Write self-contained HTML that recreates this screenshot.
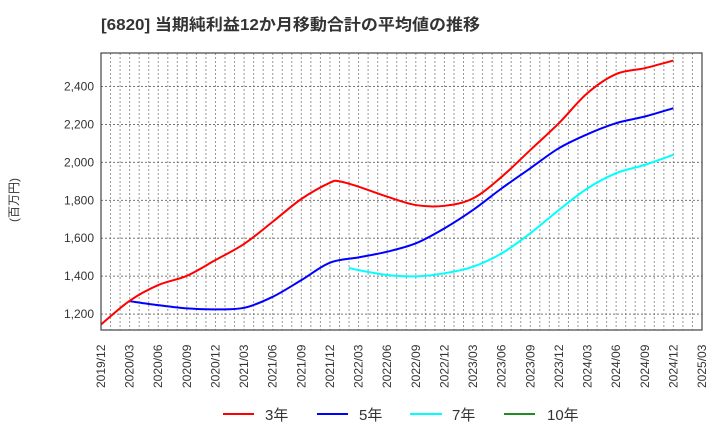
<!DOCTYPE html>
<html><head><meta charset="utf-8"><style>
body{margin:0;background:#fff;}
svg{display:block;font-family:"Liberation Sans","Noto Sans CJK JP",sans-serif;}
</style></head><body>
<svg id="chart" width="720" height="440" xmlns="http://www.w3.org/2000/svg">
<text x="101" y="30" font-size="16" font-weight="bold" fill="#333" textLength="379" lengthAdjust="spacingAndGlyphs">[6820]  当期純利益12か月移動合計の平均値の推移</text>
<text transform="translate(18,200) rotate(-90)" font-size="12" fill="#333" text-anchor="middle">(百万円)</text>
<g id="grid"></g><g id="series"></g><g id="axes"></g>
<g font-size="15" fill="#333">
<line x1="223" y1="414" x2="254" y2="414" stroke="#ff0000" stroke-width="2"/><text x="265" y="420">3年</text>
<line x1="317" y1="414" x2="348" y2="414" stroke="#0000ff" stroke-width="2"/><text x="359" y="420">5年</text>
<line x1="410" y1="414" x2="442" y2="414" stroke="#00ffff" stroke-width="2"/><text x="452" y="420">7年</text>
<line x1="504" y1="414" x2="535" y2="414" stroke="#228b22" stroke-width="2"/><text x="547" y="420">10年</text>
</g>
</svg>
<script>
const xLabels=["2019/12","2020/03","2020/06","2020/09","2020/12","2021/03","2021/06","2021/09","2021/12","2022/03","2022/06","2022/09","2022/12","2023/03","2023/06","2023/09","2023/12","2024/03","2024/06","2024/09","2024/12","2025/03"];
const yTicks=[1200,1400,1600,1800,2000,2200,2400];
const red3Months=[0,3,6,9,12,15,18,21,24,25,27,30,33,36,39,42,45,48,51,54,57,60];
const red3=[1145,1270,1353,1402,1485,1570,1687,1807,1893,1900,1872,1819,1775,1771,1810,1924,2065,2207,2366,2466,2497,2537];
const blue5Months=[3,6,9,12,15,18,21,24,27,30,33,36,39,42,45,48,51,54,57,60];
const blue5=[1268,1247,1230,1225,1233,1291,1379,1471,1499,1529,1573,1652,1749,1863,1969,2075,2149,2207,2242,2286];
const cyan7Months=[26,27,30,33,36,39,42,45,48,51,54,57,60];
const cyan7=[1443,1432,1406,1399,1415,1450,1520,1626,1749,1863,1943,1987,2040];
const L=101,R=702,T=53,B=330,YMIN=1116,YMAX=2577,NM=63;
const X=m=>L+(R-L)*m/NM, Y=v=>B-(B-T)*(v-YMIN)/(YMAX-YMIN);
const NS="http://www.w3.org/2000/svg";
function mk(t,a,p){const e=document.createElementNS(NS,t);for(const k in a)e.setAttribute(k,a[k]);p.appendChild(e);return e;}
const grid=document.getElementById('grid'),axes=document.getElementById('axes'),ser=document.getElementById('series');
for(let m=1;m<NM;m++){const l=mk('line',{x1:X(m),x2:X(m),y1:T,y2:B,stroke:'#999','stroke-dasharray':'2,2','stroke-width':1},grid);

}
yTicks.forEach(v=>{const l=mk('line',{x1:L,x2:R,y1:Y(v),y2:Y(v),stroke:'#777','stroke-dasharray':'2,2','stroke-width':1},grid);


const t=mk('text',{x:L-7,y:Y(v)+4,'text-anchor':'end','font-size':12,fill:'#333'},axes);t.textContent=v.toLocaleString('en-US');

});
const fr=mk('rect',{x:L,y:T,width:R-L,height:B-T,fill:'none',stroke:'#444','stroke-width':1.2},axes);


xLabels.forEach((s,i)=>{const x=X(i*3)+4;const t=mk('text',{transform:`translate(${x},${388}) rotate(-90)`,'font-size':12,fill:'#333'},axes);t.textContent=s;

});
function path(ms,vs){const p=ms.map((m,i)=>[X(m),Y(vs[i])]);let d=`M${p[0][0]},${p[0][1]}`;
for(let i=0;i<p.length-1;i++){const p0=p[i-1]||p[i],p1=p[i],p2=p[i+1],p3=p[i+2]||p2;
d+=` C${p1[0]+(p2[0]-p0[0])/6},${p1[1]+(p2[1]-p0[1])/6} ${p2[0]-(p3[0]-p1[0])/6},${p2[1]-(p3[1]-p1[1])/6} ${p2[0]},${p2[1]}`;}return d;}
[[cyan7Months,cyan7,'#00ffff','series-7y'],[blue5Months,blue5,'#0000ff','series-5y'],[red3Months,red3,'#ff0000','series-3y']].forEach(s=>{
const e=mk('path',{d:path(s[0],s[1]),fill:'none',stroke:s[2],'stroke-width':2},ser);

});
</script>
</body></html>
